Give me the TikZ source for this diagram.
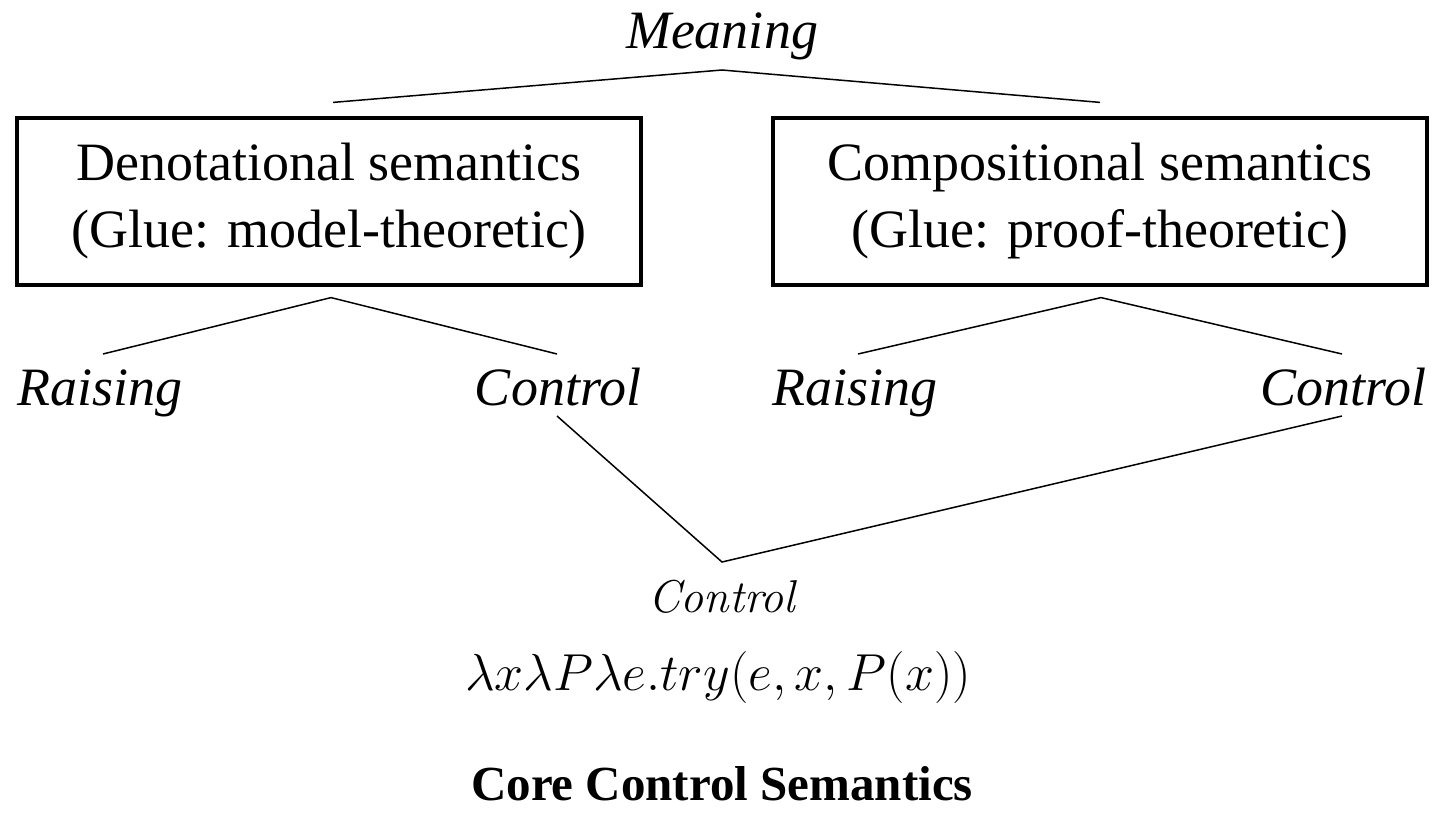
\documentclass[tikz,border=0pt]{standalone}
\usepackage{fix-cm}
\usepackage[no-math]{fontspec}
\setmainfont{Liberation Serif}
\usetikzlibrary{calc}

\begin{document}
\begin{tikzpicture}[x=0.5pt,y=-0.5pt,
 lbl/.style={font=\fontsize{27}{33}\selectfont\itshape,inner sep=0pt,anchor=base},
 sem/.style={draw,line width=1.6pt,font=\fontsize{27}{33.5}\selectfont,align=center,minimum height=83.5pt,inner sep=0pt},
 core/.style={inner sep=0pt,anchor=base,font=\fontsize{23}{28}\selectfont},
 branch/.style={line width=0.75pt}]
 \useasboundingbox (0,0) rectangle (1433,830);
 \node[lbl] (mean) at (722,48) {Meaning};
 \node[sem,minimum width=312pt] (den) at (329,201.5) {Denotational semantics\\(Glue: model-theoretic)};
 \node[sem,minimum width=327pt] (comp) at (1100,201.5) {Compositional semantics\\(Glue: proof-theoretic)};
 \node[lbl] (rais1) at (100,405) {Raising};
 \node[lbl] (ctl1) at (558,405) {Control};
 \node[lbl] (rais2) at (855,405) {Raising};
 \node[lbl] (ctl2) at (1343,405) {Control};
 \node[core] (ctl) at (722,612) {\fontfamily{lmr}\selectfont\itshape Control};
 \node[core,font=\fontsize{26}{31}\selectfont] (lam) at (718,690) {$\lambda x\lambda P\lambda e.try(e,x,P(x))$};
 \node[core,font=\fontsize{24.5}{29}\selectfont\bfseries] (title) at (722,800) {Core Control Semantics};
 \coordinate (mean-foot) at ($(mean.base)+(0,22)$);
 \coordinate (den-top) at ($(den.north)+(4,-14)$);
 \coordinate (comp-top) at ($(comp.north)+(0,-14)$);
 \coordinate (den-foot) at ($(den.south)+(2,11)$);
 \coordinate (comp-foot) at ($(comp.south)+(1,11)$);
 \coordinate (rais1-top) at ($(rais1.base)+(3,-51)$);
 \coordinate (ctl1-top) at ($(ctl1.base)+(-1,-51)$);
 \coordinate (rais2-top) at ($(rais2.base)+(3,-51)$);
 \coordinate (ctl2-top) at ($(ctl2.base)+(-1,-51)$);
 \coordinate (ctl1-foot) at ($(ctl1.base)+(-1,11)$);
 \coordinate (ctl2-foot) at ($(ctl2.base)+(-1,11)$);
 \coordinate (ctl-top) at ($(ctl.base)+(0,-50)$);
 \draw[branch] (den-top) -- (mean-foot) -- (comp-top);
 \draw[branch] (rais1-top) -- (den-foot) -- (ctl1-top);
 \draw[branch] (rais2-top) -- (comp-foot) -- (ctl2-top);
 \draw[branch] (ctl1-foot) -- (ctl-top) -- (ctl2-foot);
\end{tikzpicture}
\end{document}
